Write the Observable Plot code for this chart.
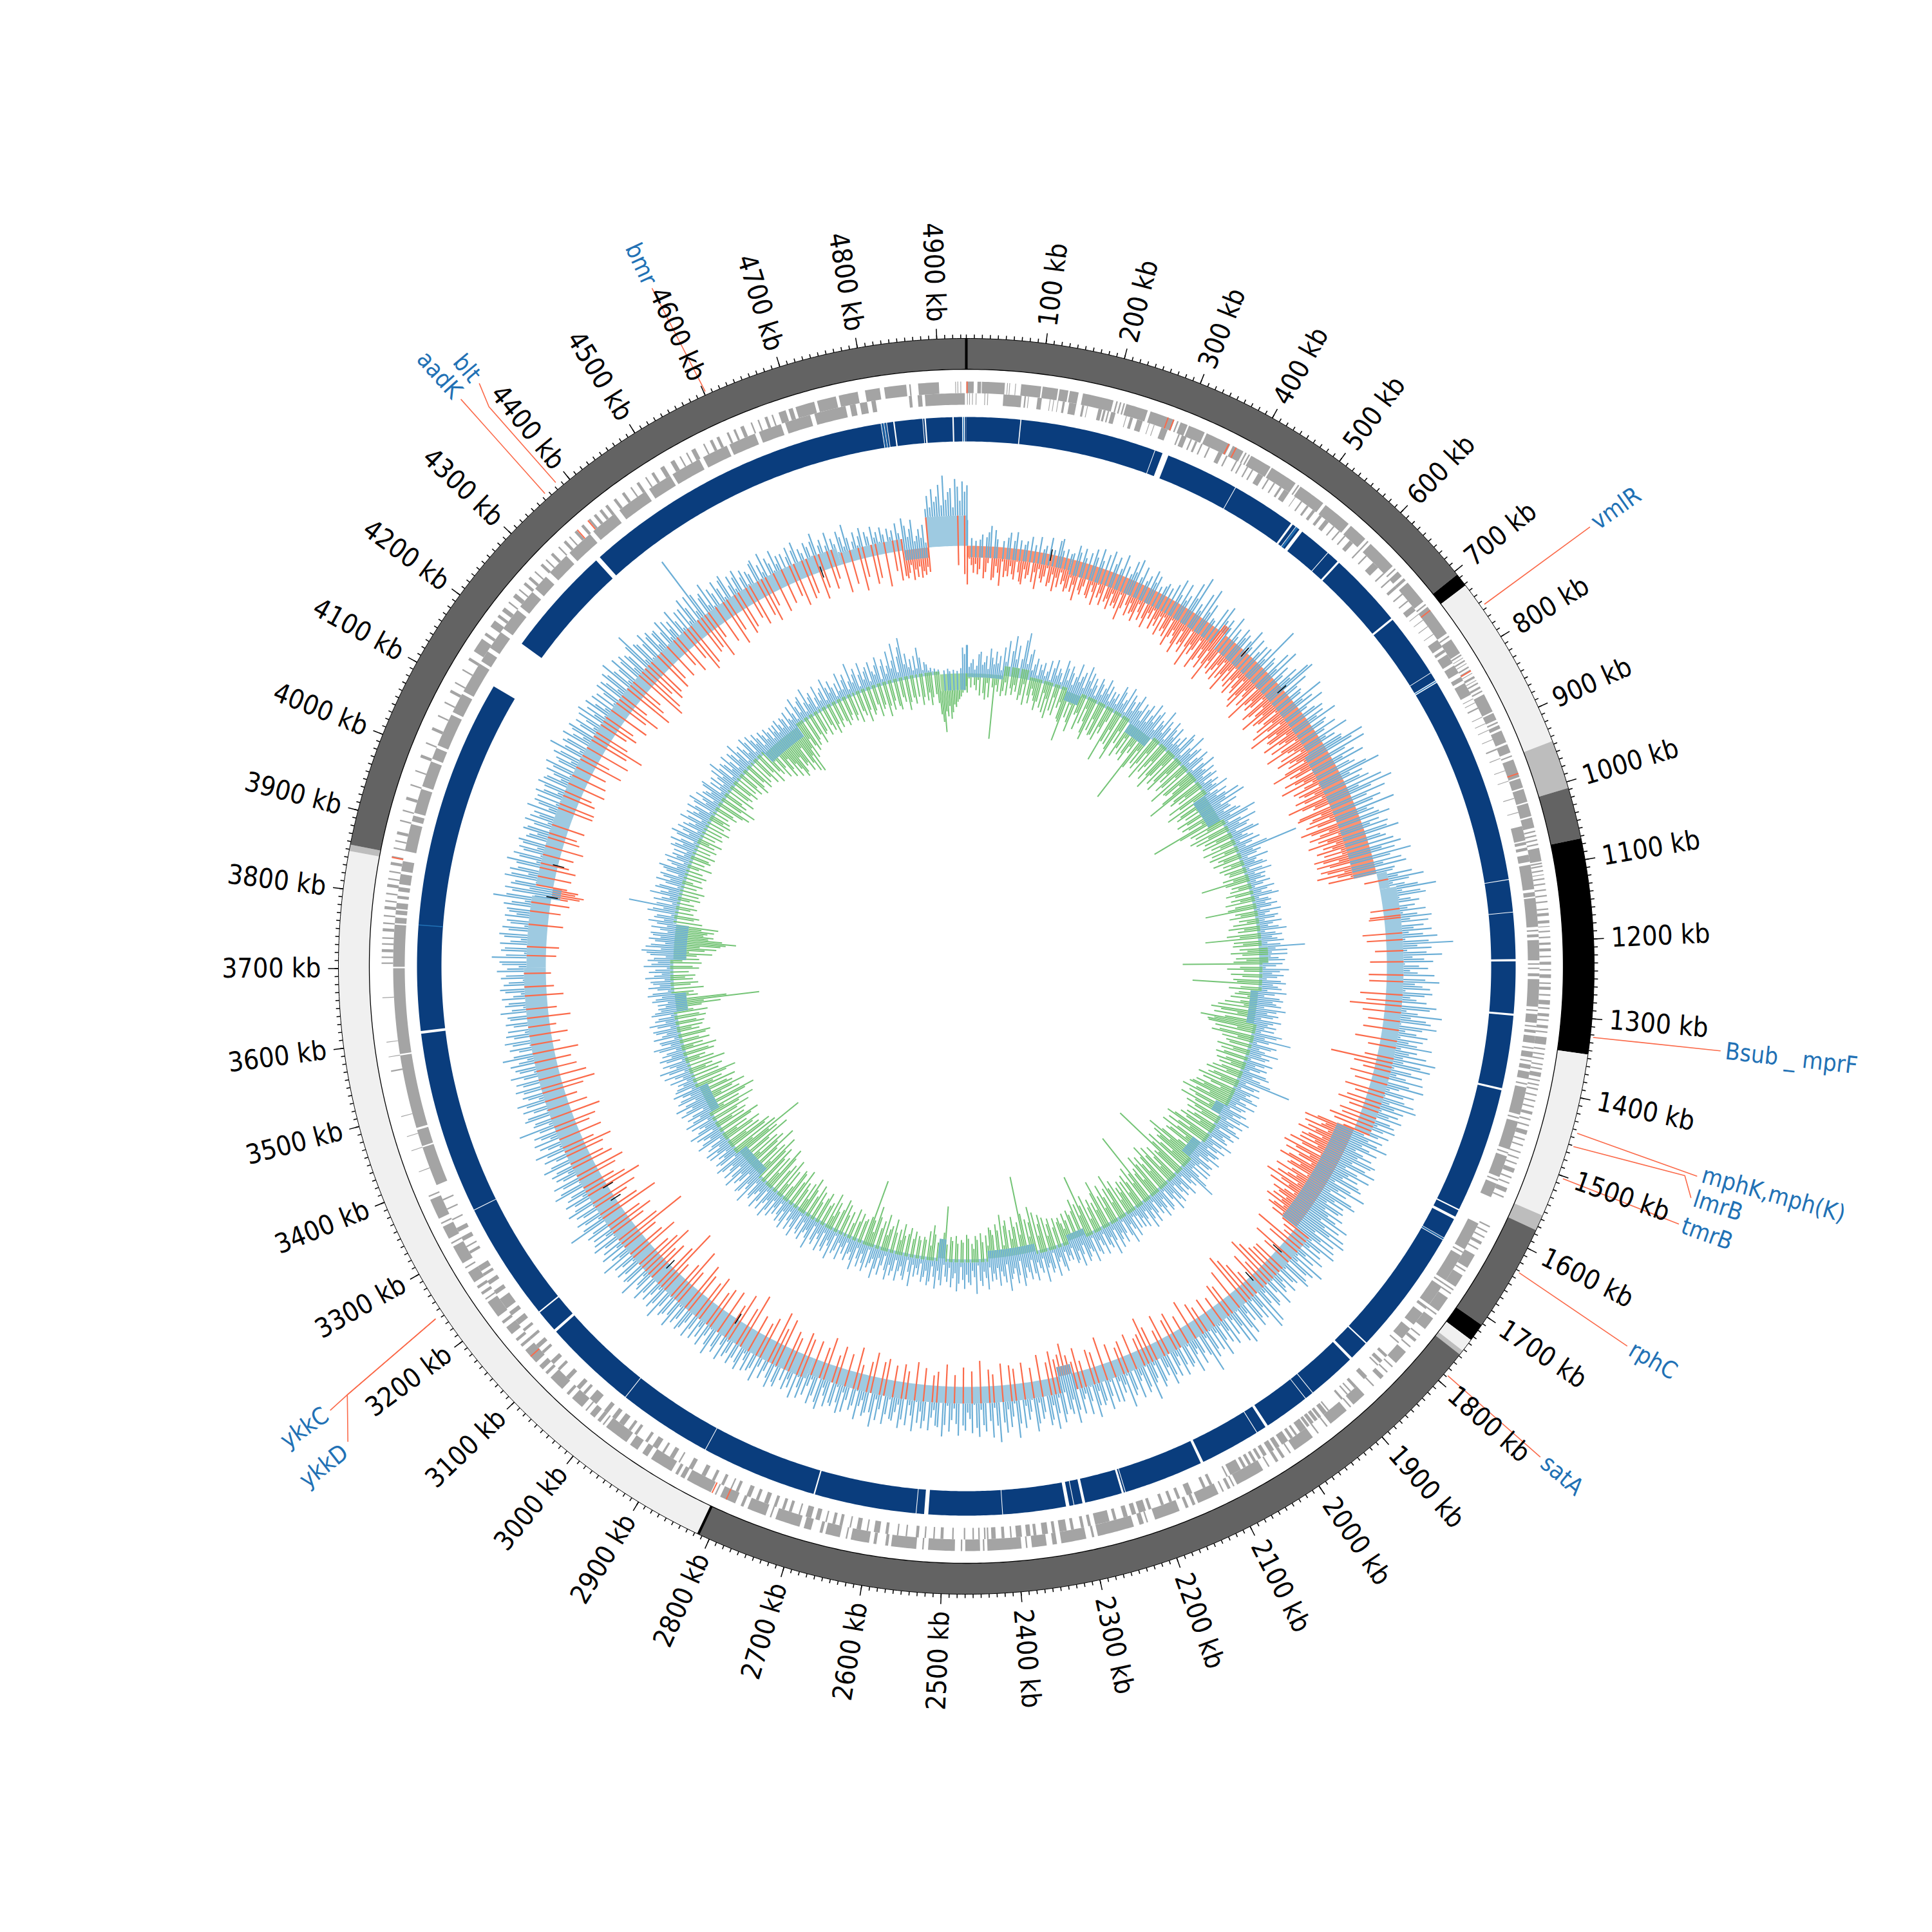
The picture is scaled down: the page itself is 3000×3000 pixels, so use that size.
<!DOCTYPE html>
<html>
<head>
<meta charset="utf-8">
<script src="https://cdn.jsdelivr.net/npm/d3@7"></script>
<script src="https://cdn.jsdelivr.net/npm/@observablehq/plot@0.6"></script>
<style>body{margin:0;background:#fff}</style>
</head>
<body>
<div id="chart"></div>
<script>
// genome map, everything in kb around the circle
const genomeKb = 4937;
const outerStep = 4;
const innerStep = 5;

const ideogramEnds = [705, 722, 946, 1008, 1073, 1345, 1555, 1575, 1712, 1735, 1752, 1758, 2815, 3848, 3856, 4937];
const ideogramColors = ["#636363", "#000000", "#f0f0f0", "#bdbdbd", "#636363", "#000000", "#f0f0f0", "#bdbdbd", "#636363", "#000000", "#f0f0f0", "#bdbdbd", "#636363", "#f0f0f0", "#bdbdbd", "#636363"];
const ideogramEdges = [0, 2815];
const tickLabels = d3.range(100, 4901, 100);

const geneNames = ["vmlR", "Bsub _ mprF", "mphK,mph(K)", "lmrB", "tmrB", "rphC", "satA", "ykkC", "ykkD", "aadK", "blt", "bmr"];
const geneLabelKb = [752, 1322, 1451, 1477, 1507, 1644, 1790, 3224, 3183, 4365, 4390, 4596];
const geneLabelR = [1192, 1186, 1188, 1186, 1182, 1190, 1180, 1212, 1222, 1188, 1188, 1168];
const geneLeaders = [
  [[755, 982], [752, 1184]],
  [[1323, 980], [1322, 1178]],
  [[1444, 984], [1454, 1180]],
  [[1461, 984], [1457, 1162], [1477, 1181]],
  [[1503, 984], [1507, 1176]],
  [[1632, 982], [1644, 1183]],
  [[1788, 982], [1790, 1172]],
  [[3242, 990], [3227, 1169], [3224, 1204]],
  [[3242, 990], [3227, 1169], [3188, 1211]],
  [[4365, 984], [4365, 1179]],
  [[4384, 986], [4382, 1142], [4390, 1179]],
  [[4602, 981], [4596, 1160]],
];

// white gaps in the dark blue track
const blueGaps = [77.5, 79, 275, 276, 287, 296, 402, 403, 497, 500, 505, 506, 512, 517, 564, 565, 583, 586, 695, 698, 791, 792, 804, 808, 1109, 1110, 1156, 1157, 1224, 1227, 1302, 1305, 1410, 1413, 1594, 1596, 1606, 1610, 1640, 1641, 1643, 1644, 1827, 1829, 1857, 1861, 1932, 1933, 1945, 1946, 2012, 2016, 2030, 2031, 2118, 2122, 2237, 2238, 2240, 2243, 2297, 2301, 2313, 2314, 2320, 2325, 2416, 2417, 2523, 2529, 2540, 2541, 2688, 2690, 2857, 2858, 2994, 2995, 3131, 3135, 3167, 3169, 3341, 3342, 3606, 3610, 4123, 4196, 4356, 4363, 4814, 4815, 4818, 4819, 4822, 4823, 4832, 4834, 4874, 4875, 4877, 4879, 4917, 4919, 4931, 4935];
const blueLight = [507, 508.5, 806, 1642, 3762, 4816, 4820, 4933];

// gene blocks as start,end pairs, one list per stretch of the genome
const geneForward = [
  [0,10, 15,20, 21,52, 55,56, 58,59, 66,67, 74,101, 103,124, 126,138, 140,152, 158,200, 204,206, 209,211, 214,216, 218,248, 252,286, 290,292, 295,305, 307,330, 333,368, 372,388, 391,393, 396,398, 400,430],
  [432,470, 474,476, 478,516, 520,560, 564,590, 594,596, 600,642, 646,648, 652,660, 664,668, 672,705, 709,711, 714,758, 762,764, 768,790],
  [792,794, 797,798, 801,803, 806,807, 811,813, 816,818, 821,822, 826,829, 832,833, 836,838, 842,845, 848,850, 854,880, 882,892, 895,897, 900,905, 908,925, 928,940, 944,946],
  [950,975, 977,990, 992,1010, 1012,1030, 1032,1046, 1050,1052, 1056,1058, 1062,1064, 1068,1070, 1074,1092, 1094,1096, 1098,1100, 1104,1106, 1110,1111, 1115,1117, 1122,1124, 1130,1132, 1138,1140, 1146,1148, 1156,1158, 1162,1166, 1172,1176, 1180,1181, 1186,1188, 1194,1196, 1202,1205, 1210,1214, 1220,1222, 1228,1232, 1238,1240, 1245,1250, 1256,1258, 1262,1266, 1272,1274, 1280,1286, 1290,1292, 1298,1302, 1306,1308, 1314,1318, 1322,1324, 1330,1340, 1345,1347, 1352,1354, 1358,1360, 1366,1368, 1372,1374, 1378,1384, 1388,1390, 1394,1396, 1400,1402, 1408,1410],
  [1416,1418, 1424,1426, 1432,1436, 1442,1444, 1450,1452, 1458,1464, 1470,1472, 1478,1480, 1488,1490, 1496,1498, 1504,1506, 1512,1518, 1524,1526, 1532,1534, 1540,1546, 1552,1554],
  [1596,1598, 1604,1606, 1612,1614, 1620,1624, 1630,1632, 1640,1660, 1664,1666, 1672,1690, 1694,1696, 1700,1702, 1708,1730, 1734,1736, 1742,1760, 1770,1772, 1778,1782],
  [1790,1792, 1800,1820, 1826,1828, 1836,1838, 1844,1850, 1862,1864, 1880,1900, 1904,1906, 1912,1940, 1945,1947, 1960,1962, 1970,2000, 2006,2008, 2016,2020, 2026,2030, 2040,2042, 2050,2090, 2094,2096, 2100,2104, 2110,2112, 2118,2148, 2152,2156, 2162,2166, 2175,2210, 2220,2222, 2226,2232, 2240,2290, 2295,2298, 2306,2340, 2346,2352, 2360,2380, 2386,2388, 2394,2440],
  [2444,2446, 2450,2470, 2474,2476, 2484,2520, 2526,2528, 2536,2570, 2574,2578, 2590,2594, 2600,2625, 2630,2632, 2640,2660, 2664,2668, 2680,2690, 2696,2730, 2736,2738, 2744,2770, 2776,2780, 2788,2810, 2816,2818, 2824,2860, 2864,2870, 2874,2878, 2884,2916, 2922,2930, 2938,2950, 2956,2990, 2994,2996, 3000,3005, 3010,3018, 3024,3026, 3032,3050, 3056,3060, 3068,3090, 3096,3100, 3105,3112, 3118,3140, 3146,3150, 3156,3160, 3168,3180, 3186,3190, 3198,3222, 3226,3228, 3234,3238, 3244,3248, 3254,3270, 3276,3278, 3284,3310, 3314,3316, 3322,3340, 3344,3346, 3352,3380, 3384,3386],
  [3420,3421, 3450,3451, 3470,3471, 3498,3499, 3560,3562, 3580,3581, 3600,3601, 3660,3661],
  [3706,3708, 3714,3716, 3722,3726, 3732,3734, 3740,3742, 3750,3754, 3760,3762, 3770,3772, 3780,3784, 3790,3792, 3800,3802, 3810,3814, 3820,3822, 3830,3832, 3840,3844, 3850,3852],
  [3862,3864, 3872,3874, 3882,3886, 3900,3902, 3914,3916, 3930,3934, 3950,3952, 3970,3972, 3990,3994, 4010,4012, 4030,4034, 4050,4052, 4070,4072, 4086,4090, 4100,4102, 4120,4122, 4136,4140, 4150,4170, 4176,4180, 4190,4200, 4206,4210, 4216,4222, 4230,4232, 4240,4246, 4252,4254, 4262,4266, 4272,4276, 4284,4286, 4296,4300, 4306,4308, 4316,4320, 4330,4332, 4340,4344, 4350,4352, 4360,4364, 4372,4376, 4385,4388, 4394,4398],
  [4404,4408, 4414,4418, 4428,4432, 4442,4446, 4456,4458, 4466,4470, 4480,4482, 4490,4494, 4504,4510, 4520,4526, 4534,4536, 4544,4546, 4552,4558, 4570,4572, 4580,4584, 4590,4594, 4605,4608, 4615,4618, 4625,4630, 4640,4642, 4650,4652, 4660,4664, 4670,4672, 4680,4690, 4694,4700, 4704,4730, 4734,4760, 4764,4790, 4800,4820, 4826,4856, 4860,4862, 4872,4900, 4922,4923, 4925,4926, 4929,4930],
];
const geneReverse = [
  [1,2, 4,5, 8,9, 13,14, 25,26, 29,30, 51,76, 80,82, 85,86, 98,104, 115,116, 120,121, 126,127, 133,136, 142,152, 160,163, 167,168, 183,188, 190,193, 196,198, 201,207, 222,223, 228,232, 238,246, 255,256, 262,263, 273,282, 298,300, 303,310, 316,318, 323,326, 332,334, 343,345, 358,364, 370,372],
  [385,387, 392,394, 402,404, 410,412, 420,428, 435,437, 445,447, 455,458, 462,470, 480,481, 490,492, 500,503, 510,514, 522,526, 532,538, 546,548, 556,558, 566,568, 576,582, 594,596, 606,608, 620,630, 640,642, 652,654, 664,668, 678,680, 690,692, 700,708, 714,715, 724,725],
  [735,736, 748,749, 758,770, 774,778, 782,796, 800,812, 818,824, 828,846, 852,853, 858,859, 866,868, 880,881, 890,891, 900,901, 914,915, 928,930, 942,943],
  [960,961, 975,976, 1000,1001, 1020,1021, 1040,1060, 1062,1066, 1070,1074, 1080,1090, 1094,1128, 1132,1138, 1140,1180, 1184,1186, 1190,1194, 1198,1226, 1230,1232, 1236,1238, 1244,1248, 1252,1290, 1294,1296, 1300,1312, 1316,1318, 1322,1326, 1330,1340, 1346,1348, 1352,1360, 1364,1366, 1370,1376, 1380,1390, 1396,1398, 1402,1440, 1444,1446, 1450,1490, 1494,1496, 1500,1530, 1534,1536, 1540,1560],
  [1600,1640, 1644,1646, 1650,1690, 1694,1696, 1700,1730, 1734,1738, 1745,1765, 1772,1790, 1796,1798, 1820,1824, 1830,1835, 1838,1840, 1860,1866, 1880,1884, 1890,1892, 1896,1898, 1905,1908, 1930,1932, 1934,1940, 1944,1948, 1950,1955, 1957,1962, 1964,1968, 1970,1980, 1985,1988, 1992,1996, 2000,2010, 2014,2020, 2023,2030, 2035,2040, 2044,2048, 2052,2056, 2060,2064, 2068,2072, 2076,2092, 2096,2098, 2120,2124, 2130,2134, 2150,2158, 2168,2172, 2180,2184, 2192,2196, 2210,2214, 2218,2228, 2232,2238, 2244,2250, 2260,2264, 2270,2290, 2296,2300, 2306,2310, 2320,2324, 2330,2340, 2346,2350, 2356,2364, 2372,2376, 2380,2386, 2392,2400, 2406,2408, 2416,2420, 2428,2434, 2438,2440],
  [2442,2444, 2450,2452, 2458,2460, 2470,2472, 2486,2488, 2500,2504, 2512,2514, 2524,2526, 2534,2538, 2550,2552, 2562,2564, 2576,2580, 2588,2596, 2604,2606, 2614,2620, 2628,2630, 2640,2644, 2650,2654, 2662,2664, 2672,2678, 2684,2692, 2700,2702, 2712,2716, 2722,2726, 2734,2738, 2746,2752, 2760,2764, 2772,2778, 2790,2794, 2800,2802, 2812,2816, 2826,2830, 2840,2846, 2860,2866, 2880,2882, 2890,2896, 2905,2908, 2916,2924, 2932,2936, 2950,2954, 2960,2964, 2972,2980, 2986,2992, 3000,3006, 3020,3032, 3040,3044, 3050,3056, 3070,3076, 3088,3092, 3100,3106, 3120,3124, 3130,3136, 3146,3150, 3160,3164, 3172,3180, 3188,3194, 3200,3216, 3224,3230, 3240,3246, 3254,3258, 3262,3270, 3290,3294, 3300,3302, 3310,3316, 3324,3330, 3342,3344, 3358,3360, 3372,3374],
  [3395,3450, 3452,3475, 3478,3580, 3582,3700, 3702,3760, 3762,3770, 3774,3780, 3782,3790, 3796,3800, 3806,3812, 3816,3830, 3834,3848],
  [3862,3900, 3904,3912, 3916,3950, 3954,3990, 3994,4010, 4014,4060, 4064,4092, 4096,4140, 4144,4160, 4166,4192, 4198,4230, 4236,4262, 4268,4290, 4298,4330, 4336,4374, 4380,4418, 4426,4470, 4476,4510, 4514,4556, 4562,4598, 4602,4640, 4646,4678, 4684,4720, 4726,4770, 4776,4784, 4790,4800, 4806,4812, 4858,4862, 4870,4876, 4880,4935],
];
const geneHits = [1, 277, 285, 366, 377, 720, 818, 970, 2801, 2822, 3129, 3850, 4365, 4384];

// running mean bands: start, end, height (plus = outward); spikes start from this level
const outerMeans = [[3, 200, -18], [200, 510, -24], [510, 522, 12], [522, 800, -28], [800, 1060, -36], [1060, 1090, 16], [1090, 1547, 26], [1547, 1760, -28], [1760, 2270, 26], [2270, 2295, -15], [2295, 2760, 26], [2760, 3700, 34], [3700, 3830, 30], [3830, 3850, -14], [3850, 4700, 27], [4700, 4820, 18], [4820, 4866, -16], [4866, 4937, 47]];
const innerMeans = [[0, 100, -6], [100, 172, 15], [172, 274, 5], [274, 316, -15], [316, 466, 5], [466, 535, -16], [535, 746, 5], [746, 827, -22], [827, 1180, 5], [1180, 1225, 14], [1225, 1300, 5], [1300, 1390, -12], [1390, 1622, 5], [1622, 1650, -15], [1650, 1740, 5], [1740, 1790, -15], [1790, 2140, 5], [2140, 2190, -10], [2190, 2280, 5], [2280, 2410, -12], [2410, 2525, 5], [2525, 2545, -30], [2545, 3080, 5], [3080, 3165, -14], [3165, 3295, 5], [3295, 3370, -14], [3370, 3580, 5], [3580, 3630, -18], [3630, 3720, 5], [3720, 3816, -20], [3816, 4342, 5], [4342, 4453, -18], [4453, 4866, 5], [4866, 4937, -26]];

// spike heights: outer track one value per 4 kb, 50 per line = 200 kb
const outerUp = [
  40,0,12,0,8,0,10,18,0,14,22,32,0,26,12,0,0,10,0,16,24,0,12,26,0,14,0,8,14,0,22,0,10,0,24,0,6,12,0,26,0,8,0,24,28,10,0,14,0,8,
  10,0,24,14,0,22,8,0,18,0,26,14,0,30,12,0,24,0,32,0,14,26,0,10,34,0,18,0,8,30,14,36,0,10,28,0,8,18,0,30,12,24,0,10,0,14,20,0,16,0,
  26,0,38,14,0,36,10,20,0,46,22,60,0,18,8,40,0,52,14,30,0,10,8,0,34,0,42,20,0,26,14,0,38,0,22,10,0,30,16,24,0,18,40,12,0,32,0,14,28,0,
  30,12,72,0,24,18,0,42,14,52,0,28,14,0,36,20,54,60,0,40,20,0,22,18,0,52,14,30,0,44,12,0,22,34,0,30,16,48,0,26,20,0,36,14,0,50,10,24,0,32,
  30,65,44,0,62,26,0,38,16,50,0,22,30,0,46,66,14,34,0,26,40,0,58,18,72,36,0,56,24,0,44,30,0,62,16,26,0,32,48,0,28,12,40,0,36,54,0,22,30,0,
  40,0,50,18,38,0,62,28,0,44,14,50,0,30,26,0,55,32,72,48,22,40,60,88,34,62,70,28,45,58,20,50,38,66,30,52,74,40,68,26,60,44,72,36,58,80,30,66,104,48,
  70,32,62,86,40,58,72,28,50,64,36,48,74,24,60,82,44,56,68,30,72,60,38,48,64,26,80,70,34,52,90,42,66,74,28,84,62,36,54,72,30,66,44,58,82,34,60,48,76,40,
  92,42,70,86,30,58,76,36,52,80,26,60,84,46,32,72,56,28,60,76,38,82,48,64,30,58,44,66,24,50,58,32,62,44,26,56,40,18,50,28,44,62,22,36,50,16,30,46,24,56,
  50,20,44,62,14,36,58,24,42,18,48,54,10,40,66,22,38,12,52,60,26,44,16,48,42,20,54,30,46,70,24,60,36,74,50,80,28,66,44,72,32,78,54,36,60,24,70,40,58,30,
  82,36,70,60,24,66,74,30,58,52,20,64,40,50,56,28,72,46,18,60,64,34,52,84,26,90,48,66,30,60,72,22,56,40,74,62,28,84,50,76,34,58,24,70,44,62,30,54,78,36,
  64,28,58,70,34,90,60,22,52,68,40,48,76,30,58,62,24,54,70,36,50,66,26,60,74,44,56,18,62,70,32,52,58,84,28,60,68,38,46,72,24,56,64,30,80,42,54,34,66,26,
  64,30,52,72,24,56,62,38,60,78,28,50,70,36,44,66,22,58,78,40,62,54,26,60,72,32,56,80,42,64,72,20,50,60,34,66,78,28,46,58,36,70,24,62,84,30,50,66,38,74,
  58,26,88,62,34,80,54,24,70,60,36,78,64,28,72,50,40,68,60,22,76,58,34,52,70,30,60,78,26,64,62,38,50,70,24,56,68,42,60,28,74,50,34,66,20,58,72,36,48,62,
  60,30,54,70,22,48,66,34,78,56,26,58,64,40,50,72,28,52,60,24,46,66,36,70,54,30,62,58,20,66,50,38,74,64,26,56,70,32,44,60,28,68,52,36,72,24,58,46,64,30,
  52,28,66,60,36,72,58,22,50,64,30,48,74,34,56,62,26,66,50,40,70,60,24,56,68,32,54,62,38,72,48,22,66,58,30,76,62,36,50,70,26,60,44,68,34,56,72,28,52,64,
  70,30,56,66,38,78,60,24,64,70,36,58,82,28,62,72,40,54,68,26,60,76,34,64,58,42,84,30,66,70,22,60,72,38,56,68,28,84,50,62,34,74,44,66,24,58,76,36,70,46,
  66,34,72,60,28,96,70,40,62,74,24,58,68,36,78,64,30,60,74,42,66,58,22,82,70,36,62,76,28,56,66,44,70,60,26,78,64,34,52,70,30,62,80,38,56,68,24,74,46,60,
  70,32,58,90,40,64,60,26,74,68,36,56,72,28,64,78,42,58,66,24,62,74,34,60,70,30,56,76,38,60,66,22,72,58,44,82,64,28,54,68,36,62,74,26,58,70,40,66,30,56,
  68,34,60,64,26,74,56,38,66,60,28,70,52,40,64,72,24,66,58,36,70,62,30,76,60,42,68,72,26,84,62,34,70,64,28,72,56,40,66,74,22,60,70,36,58,64,30,68,50,62,
  66,30,72,60,40,90,70,26,62,74,36,66,60,28,78,68,42,72,60,24,64,80,34,62,72,30,58,66,38,62,70,26,60,56,44,68,62,28,54,70,34,64,50,60,24,74,40,58,66,32,
  64,28,70,58,36,60,72,24,66,62,40,54,68,30,60,74,22,56,62,38,70,60,28,82,58,34,66,60,26,72,56,40,62,70,24,54,64,34,50,66,28,72,44,60,30,68,52,36,64,26,
  60,30,52,68,24,66,58,38,72,64,28,80,60,34,56,74,22,62,70,40,64,58,26,72,90,36,66,62,30,56,72,24,60,66,38,58,60,28,50,68,34,62,44,56,26,70,48,32,60,24,
  60,34,72,54,28,70,40,133,66,24,54,60,36,72,30,58,48,22,64,50,32,60,66,26,44,58,34,52,62,20,46,56,30,50,44,24,58,62,28,50,36,66,22,54,44,30,62,38,50,24,
  50,22,42,56,18,48,60,26,46,38,14,52,44,28,50,62,16,40,48,24,36,56,12,44,34,20,52,42,26,60,38,14,30,44,22,36,48,18,40,32,16,46,28,36,20,42,30,14,38,24,
  34,14,44,28,10,50,38,20,32,46,12,20,30,16,36,8,60,80,62,90,70,78,96,64,110,72,84,90,60,104,92,70,100,84,94,
];
const outerDown = [
  60,20,30,42,28,44,36,18,50,40,26,14,52,48,30,40,60,22,46,36,44,28,40,48,20,36,50,54,30,44,38,16,48,32,58,26,40,46,36,22,50,44,30,56,34,48,24,42,36,52,
  46,28,50,38,62,24,44,50,36,18,48,52,30,40,60,26,46,38,56,20,48,42,58,32,50,44,52,28,68,48,22,40,56,34,50,46,60,30,42,54,24,48,62,36,44,28,58,40,50,32,
  62,30,52,46,58,28,70,54,40,48,60,74,34,56,50,66,26,52,84,44,60,50,30,78,62,40,54,70,36,58,86,48,60,28,66,56,44,70,34,62,52,80,40,58,30,64,48,72,38,56,
  64,36,74,60,82,44,54,70,30,92,60,48,66,56,34,78,68,42,60,88,50,72,64,32,58,74,46,86,60,38,96,66,52,72,70,40,84,58,48,76,34,62,90,54,44,70,36,80,60,50,
  66,40,76,98,52,72,64,34,86,70,56,96,44,60,80,38,74,66,50,84,70,42,100,78,58,62,36,88,92,54,70,76,44,84,66,30,96,80,52,68,86,40,74,60,92,48,70,56,82,44,
  72,44,90,76,52,88,68,36,84,74,48,92,60,40,76,0,0,0,22,0,0,0,0,0,0,0,0,0,0,0,0,0,20,0,0,22,24,0,0,0,0,0,0,36,0,0,30,0,0,0,
  0,18,0,0,0,0,26,0,0,0,0,0,28,0,0,27,0,0,0,0,0,40,0,0,30,0,55,0,0,34,0,0,0,24,0,0,0,30,0,0,0,0,40,0,0,18,0,0,0,0,
  20,0,72,0,34,0,18,0,0,36,0,0,26,0,0,0,38,0,20,0,0,30,0,42,0,22,0,0,34,0,28,0,46,0,36,0,18,60,80,44,50,76,36,68,54,82,40,62,72,48,
  72,40,86,64,30,92,70,44,84,60,36,74,88,50,66,70,32,58,84,46,60,76,38,92,64,48,80,34,50,68,56,40,62,44,70,36,52,60,30,48,26,0,18,0,12,0,58,0,30,0,
  0,0,46,0,24,0,0,0,30,0,30,0,34,0,48,0,59,0,22,0,40,0,0,0,18,0,38,0,52,0,63,0,0,0,44,0,0,0,26,0,32,0,0,0,18,0,0,0,24,0,
  0,0,18,0,28,0,0,0,40,0,0,0,22,0,0,0,34,0,26,0,0,0,40,0,18,0,0,0,30,0,48,0,24,0,20,0,0,0,32,0,0,0,26,0,18,0,0,0,28,0,
  0,0,44,0,0,0,24,0,30,0,0,0,16,0,38,0,18,0,30,0,50,0,34,0,28,0,42,0,26,0,0,0,40,0,0,0,22,0,0,0,32,0,0,0,24,0,30,0,0,0,
  34,0,0,0,18,0,26,0,0,0,40,0,0,0,24,0,0,0,30,0,0,0,18,0,0,0,34,0,0,0,22,0,16,0,0,0,26,0,0,0,34,0,0,0,18,0,28,0,0,0,
  24,0,0,0,32,0,26,0,0,0,38,0,22,0,0,0,14,0,40,0,0,0,26,0,0,0,34,0,18,0,0,0,42,0,24,0,0,0,30,0,0,0,28,0,36,0,0,0,22,0,
  30,0,0,0,44,0,26,0,50,0,0,0,34,0,22,0,0,0,28,0,0,0,56,0,30,0,0,0,46,0,24,0,0,0,40,0,0,0,36,0,26,0,0,0,44,0,30,0,0,0,
  34,0,48,0,0,0,26,0,60,0,30,0,0,0,20,0,76,0,42,0,0,0,36,0,24,0,58,0,40,0,26,0,0,0,50,0,30,0,0,0,28,0,84,0,40,0,0,0,24,0,
  42,0,26,0,0,0,64,0,34,0,0,0,24,0,42,0,0,0,58,0,36,0,20,0,0,0,30,0,46,0,0,0,34,0,22,0,0,0,28,0,44,0,18,0,0,0,36,0,0,0,
  22,0,34,0,0,0,46,0,0,0,30,0,0,0,18,0,0,0,32,0,52,0,0,0,42,0,0,0,30,0,0,0,24,0,0,0,38,0,0,0,12,0,0,0,26,0,0,0,10,0,
  0,0,34,0,0,0,14,0,0,0,0,0,26,0,0,0,12,0,0,0,0,0,8,0,0,0,0,0,0,0,16,0,0,0,20,0,0,0,0,0,0,0,0,0,24,0,0,0,0,0,
  18,0,0,0,30,0,0,26,44,50,36,40,22,0,0,0,26,0,0,0,30,0,18,0,0,0,22,0,0,0,34,0,0,0,24,0,18,0,0,0,26,0,0,0,0,0,0,0,30,0,
  30,0,0,0,26,0,18,0,0,0,34,0,0,0,30,0,0,0,24,0,0,0,44,0,20,0,0,0,46,0,0,0,36,0,60,0,30,0,0,0,20,0,34,0,24,0,0,0,40,0,
  0,0,30,0,48,0,22,0,0,0,56,0,40,0,28,0,0,0,62,0,52,0,30,0,46,0,38,0,0,0,40,0,28,0,0,0,34,0,0,0,24,0,40,0,0,0,26,0,52,0,
  44,0,0,0,34,0,30,0,50,0,20,0,0,0,36,0,0,0,48,0,28,0,0,0,42,0,34,0,0,0,26,0,40,0,0,0,32,0,44,0,22,0,0,0,38,0,0,0,30,0,
  0,0,24,0,42,0,0,0,36,0,30,0,0,0,44,0,28,0,0,0,34,0,20,0,0,0,46,0,0,0,36,0,0,0,50,0,30,0,0,0,44,0,36,0,0,0,52,0,0,0,
  30,0,46,0,40,44,36,24,48,32,44,28,46,36,42,30,38,0,0,0,0,0,0,0,0,0,0,0,0,0,30,0,0,44,0,
];
// inner track one value per 5 kb, 40 per line = 200 kb
const innerUp = [
  44,10,16,22,6,12,30,34,14,18,28,8,40,26,16,36,18,30,8,44,22,55,12,40,64,28,50,14,30,60,72,24,40,48,16,26,36,10,28,20,
  32,12,20,38,8,28,42,18,30,24,10,46,34,16,40,30,12,26,48,20,30,38,14,50,28,42,18,36,26,10,40,32,16,28,44,22,36,12,30,20,
  30,14,46,38,20,28,50,10,42,32,18,36,48,24,26,40,12,34,44,16,30,52,22,38,46,14,34,28,56,18,42,32,12,48,36,24,44,16,30,20,
  38,18,50,44,12,30,56,24,36,42,14,28,46,34,10,30,48,22,26,40,16,30,38,12,24,34,20,26,44,10,22,36,16,30,52,26,58,14,40,24,
  26,12,32,38,18,60,46,10,30,54,24,40,34,14,42,50,20,28,36,12,44,30,18,52,100,26,38,30,14,46,26,22,34,40,10,30,44,16,32,24,
  30,14,36,24,10,40,28,18,34,44,12,26,30,20,38,28,10,42,24,16,36,30,14,40,26,18,34,46,12,28,38,22,30,40,14,34,72,26,44,20,
  44,18,30,40,14,36,26,10,46,32,20,38,28,12,34,42,22,30,36,14,44,26,10,34,40,24,30,38,12,46,32,18,36,28,10,42,30,22,36,18,
  34,14,48,40,22,64,30,12,44,36,18,28,50,24,38,32,10,46,34,20,40,30,14,42,48,22,36,54,87,16,40,32,12,44,30,24,36,46,18,30,
  46,16,34,28,10,40,32,20,50,36,14,44,30,22,38,46,12,34,42,24,30,36,10,48,32,18,42,30,14,38,34,22,46,28,12,40,36,20,44,16,
  44,16,32,50,66,24,38,30,12,46,34,20,40,30,14,44,36,22,50,28,10,38,42,18,32,46,26,36,12,30,44,20,34,48,16,28,40,22,36,14,
  34,12,44,30,20,50,36,10,28,42,24,34,46,14,30,52,22,38,32,12,44,28,18,40,34,10,48,30,24,36,42,14,28,46,20,34,38,12,30,22,
  30,14,44,36,20,26,48,10,34,40,24,30,52,14,36,28,18,46,34,12,42,30,22,38,50,10,32,44,20,28,36,54,12,40,30,22,44,16,34,24,
  36,14,48,30,20,42,34,10,54,28,18,40,36,24,46,32,12,38,50,22,30,44,14,36,28,10,42,34,20,48,30,14,38,44,22,32,40,12,30,20,
  34,16,50,28,10,42,36,22,30,46,14,32,40,24,48,34,12,28,44,18,36,52,22,30,38,10,46,34,20,42,30,14,50,36,24,28,40,12,32,22,
  44,18,32,38,10,50,30,22,42,36,14,46,28,20,40,34,12,52,36,24,30,44,16,38,32,10,48,34,22,42,28,14,46,36,20,40,30,12,34,24,
  42,16,36,50,22,30,44,12,34,48,20,28,40,36,14,54,32,24,42,46,12,30,38,20,50,34,14,44,30,22,40,48,10,36,42,24,32,16,44,28,
  46,20,38,30,12,50,40,24,34,44,14,52,36,22,30,42,12,48,34,20,40,30,10,46,36,24,50,32,14,42,36,18,30,44,12,38,34,22,30,14,
  40,18,30,46,12,36,50,22,32,42,10,34,44,24,38,30,14,40,48,20,34,36,12,44,30,22,38,42,14,34,46,20,36,30,10,40,34,24,28,16,
  28,12,36,30,20,42,34,10,26,40,22,32,36,14,44,30,18,38,28,10,46,34,24,40,30,12,36,42,50,20,44,36,14,30,40,22,34,38,12,24,
  38,14,30,44,20,36,32,10,48,40,24,79,36,12,42,30,18,50,34,22,44,38,10,30,46,24,36,42,14,34,40,48,20,30,38,12,44,26,34,16,
  34,14,42,36,24,46,30,10,40,50,22,34,44,12,38,30,20,48,36,14,42,32,24,46,34,10,40,50,22,30,44,14,36,32,24,42,46,12,34,18,
  38,16,30,44,24,52,36,12,40,34,20,46,30,14,42,36,22,50,32,10,38,28,18,44,34,12,40,30,20,36,26,10,32,24,14,30,22,8,26,16,
  26,10,30,20,12,28,24,8,32,18,14,36,22,10,44,28,16,34,40,12,26,48,20,30,36,10,24,42,16,28,34,12,46,30,20,38,26,10,30,16,
  44,16,30,38,12,24,52,20,32,40,10,28,46,18,30,36,12,42,26,20,34,46,10,30,40,16,28,50,22,34,60,14,38,52,66,24,40,18,30,12,
  34,14,46,30,10,22,18,8,12,6,10,4,8,0,0,6,0,8,4,0,6,0,4,0,8,40,30,44,
];
const innerDown = [
  30,8,22,0,18,26,10,34,0,30,40,14,36,0,20,100,16,26,0,32,24,10,30,0,18,28,12,22,0,34,26,8,40,0,24,36,12,22,30,44,
  30,0,38,14,44,22,52,0,38,16,44,0,30,20,46,50,80,0,40,18,46,60,0,30,26,52,0,40,14,34,52,62,0,44,24,50,48,0,54,30,
  40,18,0,82,48,26,50,0,56,72,20,40,0,60,44,24,52,0,46,58,30,40,0,122,62,28,50,0,56,44,22,68,0,52,40,26,60,0,48,70,
  44,20,56,0,46,62,24,40,0,54,44,18,70,0,50,48,22,38,60,86,0,44,52,26,40,0,62,44,20,70,0,50,58,24,46,0,64,48,22,60,
  50,28,115,70,0,54,26,48,0,60,30,52,0,40,22,46,0,34,20,50,0,38,18,44,0,32,24,42,0,28,16,36,0,30,22,24,0,36,20,72,
  34,0,26,16,30,0,38,24,0,32,18,42,0,28,40,76,0,30,22,40,0,26,14,36,0,44,20,30,0,48,28,82,0,38,24,40,0,30,18,44,
  26,0,36,20,40,119,0,30,50,24,0,44,26,0,40,34,103,0,28,46,0,30,36,16,42,0,26,50,20,60,0,70,54,28,64,0,46,84,62,72,
  70,24,58,0,50,62,20,44,0,36,30,0,48,22,40,0,34,46,0,28,42,18,36,0,30,44,20,52,0,38,46,24,60,0,50,36,18,58,44,62,
  66,30,52,74,0,60,48,22,70,44,0,56,40,26,50,0,34,46,20,54,42,0,60,72,28,48,64,0,44,70,24,52,58,0,30,60,83,40,70,56,
  60,26,48,70,0,58,125,40,46,0,58,40,22,64,50,0,72,54,28,44,60,0,50,66,24,48,40,0,114,46,30,60,0,38,52,22,44,0,48,30,
  40,20,56,0,46,70,24,50,0,38,60,22,44,0,72,54,26,40,0,48,36,18,58,0,44,94,30,50,0,60,42,0,38,46,0,32,44,20,30,40,
  34,0,42,28,0,44,36,18,48,0,54,40,22,60,0,70,46,24,52,0,62,121,30,50,0,44,60,26,40,0,56,48,18,66,0,42,52,0,36,44,
  48,20,36,0,26,40,0,30,36,16,24,0,32,38,0,26,30,0,24,36,0,28,34,0,22,81,40,0,30,24,0,36,50,18,40,0,26,30,0,24,
  30,0,36,24,0,40,30,0,26,44,18,34,0,28,48,0,36,30,20,52,0,40,28,0,44,60,18,36,100,40,0,34,30,0,40,26,0,44,20,0,
  36,0,28,44,0,50,32,0,26,40,16,52,0,34,28,0,46,36,0,26,42,0,50,30,0,38,56,18,44,0,30,40,0,58,36,0,48,52,20,0,
  44,18,60,0,48,36,0,56,70,22,50,0,44,62,0,54,76,26,60,0,48,84,0,56,70,24,62,0,50,88,0,72,58,119,30,76,0,60,70,28,
  54,0,46,60,20,40,0,52,66,0,44,24,50,0,38,60,0,46,72,22,50,0,64,80,0,58,28,48,70,0,52,44,0,60,24,40,0,50,66,0,
  40,0,48,22,34,0,56,0,40,18,28,0,44,36,0,50,14,30,0,42,26,0,38,46,0,30,18,36,0,40,28,0,44,34,0,48,26,0,40,70,
  44,131,80,0,36,22,30,0,46,0,26,38,0,30,18,34,0,24,0,40,30,0,44,14,40,0,36,60,24,48,66,40,72,80,96,74,52,60,44,50,
  60,40,66,0,40,0,26,34,0,24,0,18,28,0,22,0,14,30,0,26,0,34,0,20,0,28,12,0,24,0,30,0,22,0,14,34,0,20,0,28,
  24,0,32,0,22,0,30,0,24,14,34,0,20,0,30,0,26,0,36,0,24,0,32,18,28,0,22,0,34,26,0,40,50,0,32,55,0,36,26,0,
  44,0,30,36,0,28,40,0,32,0,40,28,0,46,36,0,30,44,0,38,0,32,46,0,30,52,0,36,44,20,54,38,0,60,48,30,66,44,56,72,
  66,40,58,54,70,30,60,76,50,80,40,58,26,40,50,0,44,36,0,30,46,0,34,30,0,40,0,26,36,0,44,30,0,38,28,0,32,40,0,34,
  26,0,38,30,0,44,0,28,36,0,48,30,0,40,34,0,26,46,0,36,30,0,50,34,0,42,28,0,38,44,0,26,34,0,48,36,0,30,40,0,
  30,0,44,32,0,38,26,46,34,0,30,44,62,74,90,58,66,50,70,60,48,52,44,40,36,30,0,20,
];
const blackMarks = [160, 570, 668, 1813, 1887, 2920, 3083, 3245, 3272, 3832, 3892, 4661];

// radii of the tracks
const ringOuter = 975, ringInner = 927;
const forwardR = [890, 908], reverseR = [872, 890];
const blueR = [815, 853];
const outerBase = 653, innerBase = 455;

const angle = (kb) => (kb / genomeKb) * 2 * Math.PI;
const px = (kb, r) => r * Math.sin(angle(kb));
const py = (kb, r) => r * Math.cos(angle(kb));

// closed ring sector as polygon vertices
function sector(id, start, end, r0, r1, color) {
  const n = Math.max(1, Math.ceil((end - start) / 4));
  const kbs = d3.range(n + 1).map((i) => start + ((end - start) * i) / n);
  const pts = kbs.map((kb) => ({ id, color, x: px(kb, r1), y: py(kb, r1) }));
  kbs.reverse().forEach((kb) => pts.push({ id, color, x: px(kb, r0), y: py(kb, r0) }));
  return pts;
}
const ideogram = ideogramEnds.flatMap((end, i) =>
  sector("i" + i, i ? ideogramEnds[i - 1] : 0, end, ringInner, ringOuter, ideogramColors[i])
);
const pairs = (a) => d3.range(0, a.length - 1, 2).map((i) => [a[i], a[i + 1]]);
const blueBlocks = pairs([0, ...blueGaps, genomeKb]).flatMap(([s, e], i) =>
  sector("b" + i, s, e, blueR[0], blueR[1], "#0a3d7d")
);
const genes = [
  ...geneForward.flatMap(pairs).flatMap(([s, e], i) => sector("f" + i, s, e, forwardR[0], forwardR[1], "#a4a4a4")),
  ...geneReverse.flatMap(pairs).flatMap(([s, e], i) => sector("r" + i, s, e, reverseR[0], reverseR[1], "#a4a4a4")),
];
const means = (rows, base, upColor, downColor, tag) =>
  rows.flatMap(([s, e, v], i) =>
    sector(tag + i, s, e, base + Math.min(v, 0), base + Math.max(v, 0), v > 0 ? upColor : downColor)
  );
const meanBands = [
  ...means(outerMeans, outerBase, "#9ecae1", "#fc9272", "o"),
  ...means(innerMeans, innerBase, "#9ecae1", "#a1d99b", "n"),
];
// a spike runs from the running mean to its own value
const meanAt = (rows, kb) => {
  const row = rows.find(([s, e]) => kb >= s && kb < e);
  return row ? row[2] : 0;
};
const spikes = (values, base, sign, step, rows) =>
  values
    .map((v, i) => {
      const kb = i * step + step / 2;
      const m = meanAt(rows, kb);
      return { kb, v, m: sign > 0 ? Math.max(m, 0) : Math.min(m, 0), r1: base + m, r2: base + sign * v };
    })
    .filter((d) => d.v > Math.abs(d.m));
const radial = (data, options) =>
  Plot.link(data, {
    x1: (d) => px(d.kb, d.r1),
    y1: (d) => py(d.kb, d.r1),
    x2: (d) => px(d.kb, d.r2),
    y2: (d) => py(d.kb, d.r2),
    ...options,
  });
const circle = (r, options) =>
  Plot.line(d3.range(0, genomeKb + 1, 5).concat(genomeKb), { x: (kb) => px(kb, r), y: (kb) => py(kb, r), ...options });

const minorTicks = d3.range(0, genomeKb, 10).map((kb) => ({ kb, r1: ringOuter, r2: ringOuter + 6 }));
const majorTicks = tickLabels.map((kb) => ({ kb, r1: ringOuter, r2: ringOuter + 16 }));
const deg = (kb) => (kb / genomeKb) * 360;
const rightSide = (kb) => kb < genomeKb / 2;

const tickRows = tickLabels.map((kb) => ({ kb, text: kb + " kb", r: ringOuter + 27 }));
const geneRows = geneNames.map((text, i) => ({ kb: geneLabelKb[i], r: geneLabelR[i], text }));
const leaderRows = geneLeaders.flatMap((pts, i) => pts.map(([kb, r]) => ({ id: i, kb, r })));

const labelMark = (rows, options) => [
  Plot.text(rows.filter((d) => rightSide(d.kb)), {
    x: (d) => px(d.kb, d.r), y: (d) => py(d.kb, d.r), text: "text",
    rotate: (d) => deg(d.kb) - 90, textAnchor: "start", ...options,
  }),
  Plot.text(rows.filter((d) => !rightSide(d.kb)), {
    x: (d) => px(d.kb, d.r), y: (d) => py(d.kb, d.r), text: "text",
    rotate: (d) => deg(d.kb) - 270, textAnchor: "end", ...options,
  }),
];

const polygon = (data) => Plot.line(data, { x: "x", y: "y", z: "id", fill: "color", stroke: null, curve: "linear-closed" });
const labelFont = "'DejaVu Sans Condensed','DejaVu Sans'";

const chart = Plot.plot({
  width: 3000,
  height: 3000,
  margin: 0,
  x: { domain: [-1500, 1500], range: [0, 3000], axis: null },
  y: { domain: [1500, -1500], range: [0, 3000], axis: null },
  color: { type: "identity" },
  marks: [
    polygon(ideogram),
    radial(ideogramEdges.map((kb) => ({ kb, r1: ringInner, r2: ringOuter })), { stroke: "#000", strokeWidth: 4 }),
    circle(ringInner, { stroke: "#000", strokeWidth: 1.3 }),
    circle(ringOuter, { stroke: "#000", strokeWidth: 1 }),
    radial(minorTicks, { stroke: "#000", strokeWidth: 1.5 }),
    radial(majorTicks, { stroke: "#000", strokeWidth: 1.5 }),
    polygon(genes),
    radial(geneHits.map((kb) => ({ kb, r1: reverseR[1], r2: forwardR[1] })), { stroke: "#fb6a4a", strokeWidth: 2 }),
    polygon(blueBlocks),
    radial(blueLight.map((kb) => ({ kb, r1: blueR[0], r2: blueR[1] })), { stroke: "#2171b5", strokeWidth: 1.5 }),
    polygon(meanBands),
    radial(spikes(outerUp, outerBase, 1, outerStep, outerMeans), { stroke: "#6baed6", strokeWidth: 2.2 }),
    radial(spikes(outerDown, outerBase, -1, outerStep, outerMeans), { stroke: "#fb6a4a", strokeWidth: 2.2 }),
    radial(blackMarks.map((kb) => ({ kb, r1: outerBase - 10, r2: outerBase + 8 })), { stroke: "#000", strokeWidth: 1.5 }),
    radial(spikes(innerUp, innerBase, 1, innerStep, innerMeans), { stroke: "#6baed6", strokeWidth: 2 }),
    radial(spikes(innerDown, innerBase, -1, innerStep, innerMeans), { stroke: "#74c476", strokeWidth: 2 }),
    Plot.line(leaderRows, { x: (d) => px(d.kb, d.r), y: (d) => py(d.kb, d.r), z: "id", stroke: "#fb6a4a", strokeWidth: 1.6 }),
    ...labelMark(tickRows, { fill: "#000", fontSize: 42, fontFamily: labelFont }),
    ...labelMark(geneRows, { fill: "#2171b5", fontSize: 37, fontFamily: labelFont }),
  ],
});
document.getElementById("chart").append(chart);
</script>
</body>
</html>
